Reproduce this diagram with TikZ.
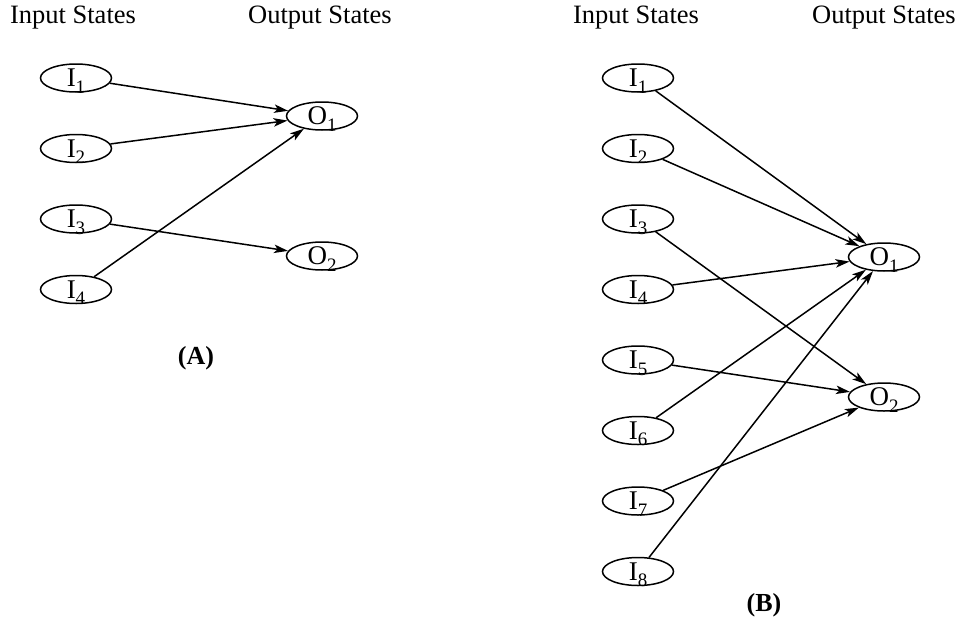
\documentclass[tikz,border=0pt]{standalone}
\usepackage{fontspec}
\setmainfont{Liberation Serif}
\usetikzlibrary{shapes.geometric,arrows.meta}
\newcommand\stlab[2]{\smash{\raisebox{-8.5pt}{#1\raisebox{-6.5pt}{\fontsize{19}{19}\selectfont #2}}}}
\tikzset{
  st/.style={ellipse, draw, line width=1.5pt, minimum width=71pt, minimum height=28pt, inner sep=0pt, text height=0pt, text depth=0pt, font=\fontsize{27}{27}\selectfont},
  hd/.style={font=\fontsize{26.5}{26.5}\selectfont, inner sep=0pt},
  figlabel/.style={font=\fontsize{26}{26}\selectfont\bfseries, inner sep=0pt},
  ar/.style={line width=1.5pt, -{Stealth[length=14pt,width=8.5pt,inset=3.5pt]}}
}
\begin{document}
\begin{tikzpicture}[x=1pt,y=-1pt]
\useasboundingbox (0,0) rectangle (961,624);
% (A)
\node[hd] (hA1) at (73,18) {Input States};
\node[hd] (hA2) at (320,18) {Output States};
\node[st] (a1) at (76,78) {\stlab{I}{1}};
\node[st] (a2) at (76,148.5) {\stlab{I}{2}};
\node[st] (a3) at (76,219) {\stlab{I}{3}};
\node[st] (a4) at (76,289.5) {\stlab{I}{4}};
\node[st] (ao1) at (322,116) {\stlab{O}{1}};
\node[st] (ao2) at (322,256) {\stlab{O}{2}};
\draw[ar] (a1) -- (ao1);
\draw[ar] (a2) -- (ao1);
\draw[ar] (a4) -- (ao1);
\draw[ar] (a3) -- (ao2);
\node[figlabel] (capA) at (196,358) {(A)};
% (B)
\node[hd] (hB1) at (636,18) {Input States};
\node[hd] (hB2) at (884,18) {Output States};
\foreach \k in {1,...,8} {
  \node[st] (b\k) at (638,{78+(\k-1)*70.5}) {\stlab{I}{\k}};
}
\node[st] (bo1) at (884,257) {\stlab{O}{1}};
\node[st] (bo2) at (884,397) {\stlab{O}{2}};
\draw[ar] (b1) -- (bo1);
\draw[ar] (b2) -- (bo1);
\draw[ar] (b4) -- (bo1);
\draw[ar] (b6) -- (bo1);
\draw[ar] (b8) -- (bo1);
\draw[ar] (b3) -- (bo2);
\draw[ar] (b5) -- (bo2);
\draw[ar] (b7) -- (bo2);
\node[figlabel] (capB) at (764,605) {(B)};
\end{tikzpicture}
\end{document}
